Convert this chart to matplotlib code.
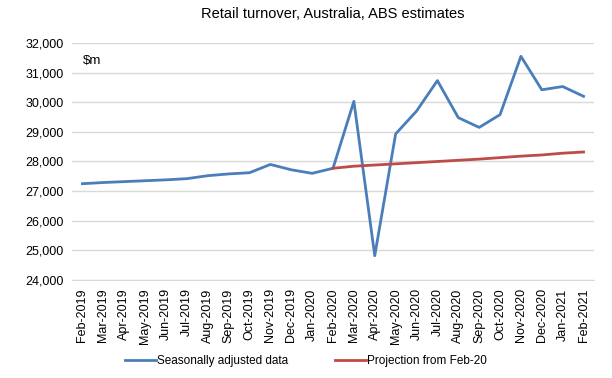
import numpy as np
import matplotlib.pyplot as plt

months = ['Feb-2019', 'Mar-2019', 'Apr-2019', 'May-2019', 'Jun-2019', 'Jul-2019',
          'Aug-2019', 'Sep-2019', 'Oct-2019', 'Nov-2019', 'Dec-2019', 'Jan-2020',
          'Feb-2020', 'Mar-2020', 'Apr-2020', 'May-2020', 'Jun-2020', 'Jul-2020',
          'Aug-2020', 'Sep-2020', 'Oct-2020', 'Nov-2020', 'Dec-2020', 'Jan-2021',
          'Feb-2021']

seas_adj = [27250, 27290, 27320, 27350, 27380, 27420, 27520, 27580, 27620, 27900,
            27720, 27600, 27770, 30030, 24820, 28930, 29700, 30730, 29480, 29150,
            29580, 31550, 30420, 30530, 30200]

projection = [np.nan] * 12 + [27770, 27840, 27880, 27920, 27960, 28000, 28040,
                              28080, 28130, 28180, 28220, 28280, 28320]

plt.rcParams['font.family'] = ['Liberation Sans', 'DejaVu Sans']

fig = plt.figure(figsize=(6.12, 3.78), dpi=100)
ax = fig.add_axes([0.1176, 0.2593, 0.853, 0.627])

x = np.arange(len(months))
ax.plot(x, seas_adj, color='#4A7EBB', lw=2.0, label='Seasonally adjusted data')
ax.plot(x, projection, color='#BE4B48', lw=2.0, label='Projection from Feb-20')

ax.set_xlim(-0.5, len(months) - 0.5)
ax.set_ylim(24000, 32000)
ax.set_yticks(np.arange(24000, 32001, 1000))
ax.set_yticklabels([f'{v:,}' for v in range(24000, 32001, 1000)], fontsize=9)
ax.set_xticks(x)
ax.set_xticklabels(months, rotation=90, fontsize=9)
ax.tick_params(length=0, pad=6)
ax.grid(axis='y', color='#D9D9D9', lw=1)
ax.set_axisbelow(True)
for s in ['top', 'right', 'left']:
    ax.spines[s].set_visible(False)
ax.spines['bottom'].set_color('#D9D9D9')

ax.text(0.02, 0.91, '$m', transform=ax.transAxes, fontsize=9.5)
ax.set_title('Retail turnover, Australia, ABS estimates', fontsize=10.5, pad=18)

fig.legend(loc='lower center', bbox_to_anchor=(0.5, 0.0), ncol=2, frameon=False,
           fontsize=8.5, handlelength=2.6, columnspacing=4, handletextpad=0.1)

fig.savefig('out.png', dpi=100)
